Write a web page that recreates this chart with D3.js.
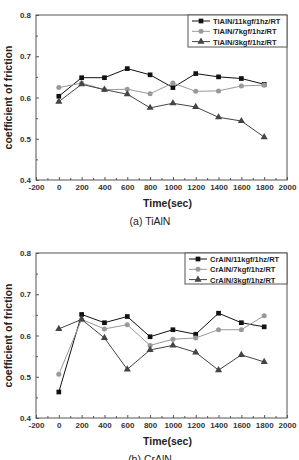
<!DOCTYPE html>
<html>
<head>
<meta charset="utf-8">
<script src="https://cdn.jsdelivr.net/npm/d3@7"></script>
<style>
  body { margin: 0; background: #fff; }
  text { font-family: "Liberation Sans", Arial, sans-serif; }
</style>
</head>
<body>
<script>
// time points (sec)
var times = [0, 200, 400, 600, 800, 1000, 1200, 1400, 1600, 1800];
var xTicks = [-200, 0, 200, 400, 600, 800, 1000, 1200, 1400, 1600, 1800, 2000];
var yTicks = [0.4, 0.5, 0.6, 0.7, 0.8];

// (a) TiAlN
var tialnNames = ["TiAlN/11kgf/1hz/RT", "TiAlN/7kgf/1hz/RT", "TiAlN/3kgf/1hz/RT"];
var tialn11 = [0.603, 0.648, 0.648, 0.670, 0.655, 0.624, 0.658, 0.650, 0.646, 0.632];
var tialn7  = [0.624, 0.635, 0.619, 0.620, 0.609, 0.635, 0.615, 0.616, 0.628, 0.630];
var tialn3  = [0.590, 0.632, 0.619, 0.608, 0.575, 0.586, 0.577, 0.552, 0.543, 0.504];

// (b) CrAlN
var cralnNames = ["CrAlN/11kgf/1hz/RT", "CrAlN/7kgf/1hz/RT", "CrAlN/3kgf/1hz/RT"];
var craln11 = [0.463, 0.651, 0.631, 0.646, 0.597, 0.614, 0.603, 0.654, 0.631, 0.621];
var craln7  = [0.506, 0.639, 0.616, 0.626, 0.576, 0.591, 0.594, 0.614, 0.614, 0.648];
var craln3  = [0.616, 0.639, 0.594, 0.518, 0.565, 0.576, 0.559, 0.516, 0.553, 0.536];

var W = 299, H = 460;
var svg = d3.select("body").append("svg")
    .attr("width", W)
    .attr("height", H);

var styles = [
  {color: "#111", shape: d3.symbolSquare, size: 22},
  {color: "#999", shape: d3.symbolCircle, size: 20},
  {color: "#444", shape: d3.symbolTriangle, size: 22}
];

function drawPanel(top, series, names, caption, legendBox) {
  var margin = {top: top, left: 36},
      width = 251, height = 165;

  var g = svg.append("g")
      .attr("transform", "translate(" + margin.left + "," + margin.top + ")");

  var x = d3.scaleLinear().domain([-200, 2000]).range([0, width]);
  var y = d3.scaleLinear().domain([0.4, 0.8]).range([height, 0]);

  // frame
  g.append("rect")
      .attr("width", width).attr("height", height)
      .attr("fill", "none").attr("stroke", "#555").attr("stroke-width", 1);

  // bottom axis, ticks pointing inward
  g.append("g")
      .attr("transform", "translate(0," + height + ")")
      .call(d3.axisBottom(x).tickValues(xTicks).tickSize(-3).tickPadding(4)
        .tickFormat(function (d) { return String(d); }));
  g.append("g")
      .attr("transform", "translate(0," + height + ")")
      .call(d3.axisBottom(x).tickValues(d3.range(-100, 2000, 200)).tickSize(-2).tickFormat(""));

  g.append("g")
      .call(d3.axisLeft(y).tickValues(yTicks).tickSize(-3).tickPadding(5).tickFormat(d3.format(".1f")));
  g.append("g")
      .call(d3.axisLeft(y).tickValues([0.45, 0.55, 0.65, 0.75]).tickSize(-2).tickFormat(""));

  g.selectAll(".domain").remove();
  g.selectAll(".tick line").attr("stroke", "#555");
  g.selectAll(".tick text")
      .attr("fill", "#333")
      .style("font-size", "8px")
      .style("font-weight", "bold");

  // axis titles
  g.append("text")
      .attr("x", width / 2 + 6)
      .attr("y", height + 27)
      .attr("text-anchor", "middle")
      .style("font-size", "10.5px")
      .style("font-weight", "bold")
      .attr("fill", "#222")
      .text("Time(sec)");

  g.append("text")
      .attr("transform", "translate(-24," + (height / 2) + ") rotate(-90)")
      .attr("text-anchor", "middle")
      .style("font-size", "10.5px")
      .style("font-weight", "bold")
      .attr("fill", "#222")
      .text("coefficient of friction");

  svg.append("text")
      .attr("x", 150)
      .attr("y", top + height + 45)
      .attr("text-anchor", "middle")
      .style("font-size", "10.5px")
      .attr("fill", "#222")
      .text(caption);

  var line = d3.line()
      .x(function (d, i) { return x(times[i]); })
      .y(function (d) { return y(d); });

  series.forEach(function (vals, k) {
    g.append("path")
        .datum(vals)
        .attr("d", line)
        .attr("fill", "none")
        .attr("stroke", styles[k].color)
        .attr("stroke-width", 1);

    g.selectAll(".pt" + k)
        .data(vals)
        .enter().append("path")
        .attr("class", "pt" + k)
        .attr("transform", function (d, i) { return "translate(" + x(times[i]) + "," + y(d) + ")"; })
        .attr("d", d3.symbol().type(styles[k].shape).size(styles[k].size))
        .attr("fill", styles[k].color);
  });

  // legend
  var lg = g.append("g").attr("transform", "translate(" + legendBox.x + "," + legendBox.y + ")");
  lg.append("rect")
      .attr("width", width - legendBox.x)
      .attr("height", legendBox.h)
      .attr("fill", "#fff")
      .attr("stroke", "#555");
  names.forEach(function (name, k) {
    var ly = 6 + k * 10.3;
    lg.append("line")
        .attr("x1", 4).attr("x2", 22)
        .attr("y1", ly).attr("y2", ly)
        .attr("stroke", styles[k].color);
    lg.append("path")
        .attr("transform", "translate(13," + ly + ")")
        .attr("d", d3.symbol().type(styles[k].shape).size(styles[k].size))
        .attr("fill", styles[k].color);
    lg.append("text")
        .attr("x", 25)
        .attr("y", ly + 3)
        .style("font-size", "7.5px")
        .style("font-weight", "bold")
        .attr("fill", "#222")
        .text(name);
  });
}

drawPanel(15, [tialn11, tialn7, tialn3], tialnNames, "(a) TiAlN", {x: 152, y: 0, h: 32});
drawPanel(253, [craln11, craln7, craln3], cralnNames, "(b) CrAlN", {x: 149, y: 0, h: 31});
</script>
</body>
</html>
